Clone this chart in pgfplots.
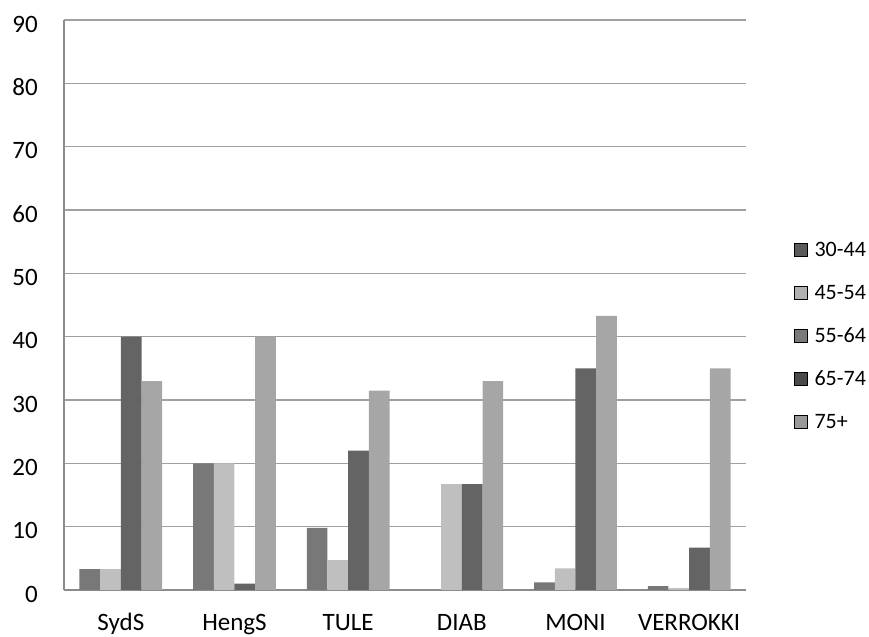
\documentclass[border=0pt]{standalone}
\usepackage{fontspec}
\setmainfont{Carlito}
\usepackage{pgfplots}
\pgfplotsset{compat=1.18}
\definecolor{gridc}{HTML}{A0A0A0}
\definecolor{axc}{HTML}{8C8C8C}
\definecolor{ba}{HTML}{787878}
\definecolor{bb}{HTML}{BFBFBF}
\definecolor{bc}{HTML}{646464}
\definecolor{bd}{HTML}{A6A6A6}
\definecolor{la}{HTML}{5A5A5A}
\definecolor{lb}{HTML}{B0B0B0}
\definecolor{lc}{HTML}{7A7A7A}
\definecolor{ld}{HTML}{4A4A4A}
\definecolor{le}{HTML}{999999}
\pgfplotsset{sq/.style={legend image code/.code={\fill[##1] (0bp,-6.5bp) rectangle (13bp,6.5bp); \path (20bp,0bp);}}}

\begin{document}
\begin{tikzpicture}
\begin{axis}[
  scale only axis, width=682bp, height=570bp,
  xmin=-0.5, xmax=5.5, ymin=0, ymax=90,
  ytick distance=10,
  xtick={0,...,5},
  xticklabels={SydS,HengS,TULE,DIAB,MONI,VERROKKI},
  major tick length=0pt,
  axis x line*=bottom, axis y line*=left,
  axis line style={draw=axc, line width=1.5bp},
  ymajorgrids, grid style={draw=gridc, line width=1.5bp},
  /pgf/number format/assume math mode=true,
  ticklabel style={font=\fontsize{25bp}{30bp}\selectfont},
  yticklabel style={anchor=base east, inner sep=0pt, xshift=-26bp, yshift=-12bp},
  xticklabel style={anchor=base, inner sep=0pt, yshift=-40bp},
  legend style={at={(1.066,0.614)}, anchor=north west, draw=none, fill=none,
    font=\fontsize{22bp}{26bp}\selectfont, row sep=29bp,
    nodes={inner sep=0pt, text height=14bp, text depth=0bp}},
  legend cell align=left,
]
\addplot[ybar, bar width=20.7bp, bar shift=-31.05bp, fill=ba, draw=none, forget plot]
  coordinates {(0,3.3) (1,20) (2,9.8) (3,0) (4,1.2) (5,0.6)};
\addplot[ybar, bar width=20.7bp, bar shift=-10.35bp, fill=bb, draw=none, forget plot]
  coordinates {(0,3.3) (1,20) (2,4.7) (3,16.7) (4,3.4) (5,0.3)};
\addplot[ybar, bar width=20.7bp, bar shift=10.35bp, fill=bc, draw=none, forget plot]
  coordinates {(0,40) (1,1) (2,22) (3,16.7) (4,35) (5,6.7)};
\addplot[ybar, bar width=20.7bp, bar shift=31.05bp, fill=bd, draw=none, forget plot]
  coordinates {(0,33) (1,40) (2,31.5) (3,33) (4,43.3) (5,35)};
\addlegendimage{sq, fill=la}
\addlegendentry{30-44}
\addlegendimage{sq, fill=lb}
\addlegendentry{45-54}
\addlegendimage{sq, fill=lc}
\addlegendentry{55-64}
\addlegendimage{sq, fill=ld}
\addlegendentry{65-74}
\addlegendimage{sq, fill=le}
\addlegendentry{75+}
\end{axis}
\pgfresetboundingbox
\path (-64bp,-47bp) rectangle (805bp,590bp);
\end{tikzpicture}
\end{document}
